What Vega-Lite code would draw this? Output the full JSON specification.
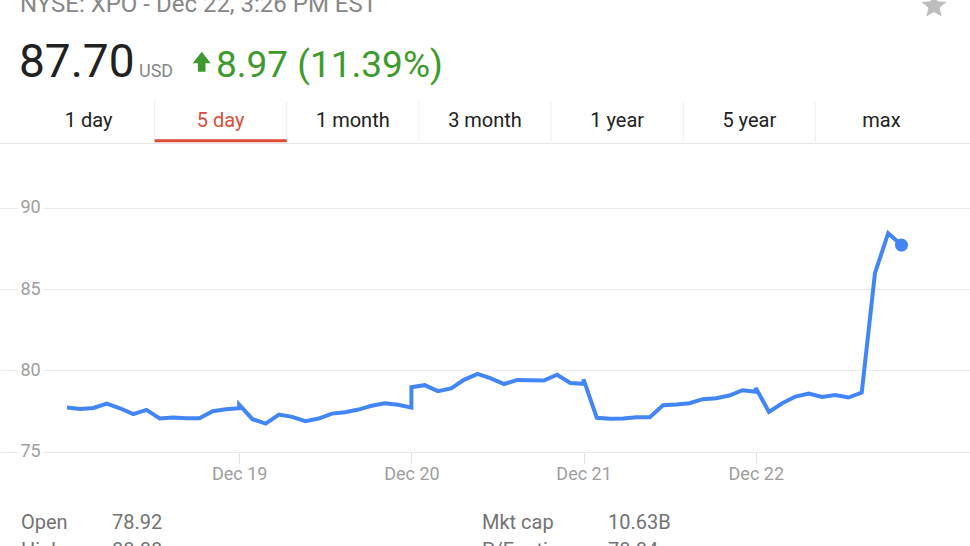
{
  "$schema": "https://vega.github.io/schema/vega-lite/v6.json",
  "width": 970,
  "height": 546,
  "padding": 0,
  "autosize": {"type": "none"},
  "background": "white",
  "config": {"view": {"stroke": null}, "font": "Roboto", "text": {"font": "Roboto"}},
  "datasets": {
    "prices": [
      {"i": 0, "t": 0, "price": 77.71}, {"i": 1, "t": 0.0769, "price": 77.63}, {"i": 2, "t": 0.1538, "price": 77.69}, {"i": 3, "t": 0.2308, "price": 77.96}, {"i": 4, "t": 0.3077, "price": 77.67}, {"i": 5, "t": 0.3846, "price": 77.31}, {"i": 6, "t": 0.4615, "price": 77.57}, {"i": 7, "t": 0.5385, "price": 77.04}, {"i": 8, "t": 0.6154, "price": 77.10}, {"i": 9, "t": 0.6923, "price": 77.06}, {"i": 10, "t": 0.7692, "price": 77.06}, {"i": 11, "t": 0.8462, "price": 77.49}, {"i": 12, "t": 0.9231, "price": 77.61}, {"i": 13, "t": 1.0, "price": 77.67},
      {"i": 14, "t": 1.0, "price": 77.89}, {"i": 15, "t": 1.0769, "price": 77.00}, {"i": 16, "t": 1.1538, "price": 76.73}, {"i": 17, "t": 1.2308, "price": 77.28}, {"i": 18, "t": 1.3077, "price": 77.14}, {"i": 19, "t": 1.3846, "price": 76.88}, {"i": 20, "t": 1.4615, "price": 77.04}, {"i": 21, "t": 1.5385, "price": 77.34}, {"i": 22, "t": 1.6154, "price": 77.43}, {"i": 23, "t": 1.6923, "price": 77.59}, {"i": 24, "t": 1.7692, "price": 77.82}, {"i": 25, "t": 1.8462, "price": 77.98}, {"i": 26, "t": 1.9231, "price": 77.88}, {"i": 27, "t": 2.0, "price": 77.71},
      {"i": 28, "t": 2.0, "price": 78.96}, {"i": 29, "t": 2.0769, "price": 79.09}, {"i": 30, "t": 2.1538, "price": 78.72}, {"i": 31, "t": 2.2308, "price": 78.89}, {"i": 32, "t": 2.3077, "price": 79.43}, {"i": 33, "t": 2.3846, "price": 79.78}, {"i": 34, "t": 2.4615, "price": 79.51}, {"i": 35, "t": 2.5385, "price": 79.16}, {"i": 36, "t": 2.6154, "price": 79.41}, {"i": 37, "t": 2.6923, "price": 79.39}, {"i": 38, "t": 2.7692, "price": 79.37}, {"i": 39, "t": 2.8462, "price": 79.73}, {"i": 40, "t": 2.9231, "price": 79.22}, {"i": 41, "t": 3.0, "price": 79.17},
      {"i": 42, "t": 3.0, "price": 79.45}, {"i": 43, "t": 3.0769, "price": 77.08}, {"i": 44, "t": 3.1538, "price": 77.02}, {"i": 45, "t": 3.2308, "price": 77.04}, {"i": 46, "t": 3.3077, "price": 77.12}, {"i": 47, "t": 3.3846, "price": 77.12}, {"i": 48, "t": 3.4615, "price": 77.86}, {"i": 49, "t": 3.5385, "price": 77.90}, {"i": 50, "t": 3.6154, "price": 77.98}, {"i": 51, "t": 3.6923, "price": 78.23}, {"i": 52, "t": 3.7692, "price": 78.29}, {"i": 53, "t": 3.8462, "price": 78.45}, {"i": 54, "t": 3.9231, "price": 78.78}, {"i": 55, "t": 4.0, "price": 78.68},
      {"i": 56, "t": 4.0, "price": 78.92}, {"i": 57, "t": 4.0769, "price": 77.44}, {"i": 58, "t": 4.1538, "price": 77.98}, {"i": 59, "t": 4.2308, "price": 78.39}, {"i": 60, "t": 4.3077, "price": 78.57}, {"i": 61, "t": 4.3846, "price": 78.37}, {"i": 62, "t": 4.4615, "price": 78.49}, {"i": 63, "t": 4.5385, "price": 78.33}, {"i": 64, "t": 4.6154, "price": 78.63}, {"i": 65, "t": 4.6923, "price": 85.98}, {"i": 66, "t": 4.7692, "price": 88.43}, {"i": 67, "t": 4.8462, "price": 87.70}
    ],
    "header": [
      {"item": "nyse", "text": "NYSE: XPO - Dec 22, 3:26 PM EST"},
      {"item": "price", "text": "87.70"},
      {"item": "usd", "text": "USD"},
      {"item": "arrow", "text": "up"},
      {"item": "chg", "text": "8.97 (11.39%)"},
      {"item": "star", "text": "favourite"}
    ],
    "tabs": [
      {"tab": "1 day"}, {"tab": "5 day"}, {"tab": "1 month"}, {"tab": "3 month"}, {"tab": "1 year"}, {"tab": "5 year"}, {"tab": "max"}
    ],
    "stats": [
      {"stat": "Open", "value": "78.92"},
      {"stat": "Mkt cap", "value": "10.63B"},
      {"stat": "High", "value": "88.88"},
      {"stat": "P/E ratio", "value": "78.84"}
    ]
  },
  "layer": [
    {
      "layer": [
        {
          "data": {"name": "prices"},
          "mark": {"type": "line", "color": "#4285f4", "strokeWidth": 4},
          "encoding": {
            "x": {"field": "t", "type": "quantitative",
              "scale": {"domain": [-0.3891, 5.2442], "nice": false, "zero": false},
              "axis": {"values": [1, 2, 3, 4], "labelExpr": "['Dec 16','Dec 19','Dec 20','Dec 21','Dec 22'][datum.value]", "title": null, "offset": -94, "domain": false, "grid": false, "ticks": true, "tickSize": 11, "tickColor": "#e0e0e0", "labelColor": "#9e9e9e", "labelFontSize": 18, "labelFont": "Roboto", "labelPadding": 2, "labelFlush": false, "labelOverlap": false}},
            "y": {"field": "price", "type": "quantitative",
              "scale": {"domain": [69.202, 102.768], "nice": false, "zero": false},
              "axis": {"values": [75, 80, 85, 90], "title": null, "orient": "left", "offset": -20, "domain": false, "ticks": false, "tickSize": 0, "labelAlign": "left", "labelPadding": 0, "labelBaseline": "middle", "labelColor": "#9e9e9e", "labelFontSize": 18, "labelFont": "Roboto", "grid": true, "gridColor": "#ebebeb", "gridWidth": 1, "gridDash": [17.5, 25, 3000]}},
            "order": {"field": "i", "type": "quantitative"}
          }
        },
        {
          "data": {"name": "prices"},
          "transform": [{"filter": "datum.i == 67"}],
          "mark": {"type": "point", "filled": true, "color": "#4285f4", "size": 170, "opacity": 1},
          "encoding": {
            "x": {"field": "t", "type": "quantitative"},
            "y": {"field": "price", "type": "quantitative"}
          }
        },
        {
          "data": {"name": "header"},
          "transform": [{"filter": "datum.item === 'nyse'"}],
          "mark": {"type": "rule", "color": "#e6e6e6", "strokeWidth": 1},
          "encoding": {"y": {"datum": 93.946, "type": "quantitative"}}
        },
        {
          "data": {"name": "header"},
          "transform": [{"filter": "datum.item === 'nyse'"}],
          "mark": {"type": "text", "align": "left", "baseline": "alphabetic", "fontSize": 24, "color": "#878787"},
          "encoding": {"text": {"field": "text"}, "x": {"datum": -0.273, "type": "quantitative"}, "y": {"datum": 102.0, "type": "quantitative"}}
        },
        {
          "data": {"name": "header"},
          "transform": [{"filter": "datum.item === 'price'"}],
          "mark": {"type": "text", "align": "left", "baseline": "alphabetic", "fontSize": 46, "color": "#212121"},
          "encoding": {"text": {"field": "text"}, "x": {"datum": -0.2788, "type": "quantitative"}, "y": {"datum": 98.034, "type": "quantitative"}}
        },
        {
          "data": {"name": "header"},
          "transform": [{"filter": "datum.item === 'usd'"}],
          "mark": {"type": "text", "align": "left", "baseline": "alphabetic", "fontSize": 18, "color": "#878787"},
          "encoding": {"text": {"field": "text"}, "x": {"datum": 0.4182, "type": "quantitative"}, "y": {"datum": 98.065, "type": "quantitative"}}
        },
        {
          "data": {"name": "header"},
          "transform": [{"filter": "datum.item === 'chg'"}],
          "mark": {"type": "text", "align": "left", "baseline": "alphabetic", "fontSize": 37, "color": "#3e9a2d"},
          "encoding": {"text": {"field": "text"}, "x": {"datum": 0.8653, "type": "quantitative"}, "y": {"datum": 98.034, "type": "quantitative"}}
        },
        {
          "data": {"name": "header"},
          "transform": [{"filter": "datum.item === 'arrow'"}],
          "mark": {"type": "point", "filled": true, "opacity": 1, "color": "#3e9a2d", "size": 400, "shape": "M0,-1L0.9,0.16L0.38,0.16L0.38,1L-0.38,1L-0.38,0.16L-0.9,0.16Z"},
          "encoding": {"x": {"datum": 0.7823, "type": "quantitative"}, "y": {"datum": 98.975, "type": "quantitative"}}
        },
        {
          "data": {"name": "header"},
          "transform": [{"filter": "datum.item === 'star'"}],
          "mark": {"type": "point", "filled": true, "opacity": 1, "color": "#bdbdbd", "size": 686, "shape": "M0,-1L0.265,-0.364L0.951,-0.309L0.428,0.139L0.588,0.809L0,0.45L-0.588,0.809L-0.428,0.139L-0.951,-0.309L-0.265,-0.364Z"},
          "encoding": {"x": {"datum": 5.0351, "type": "quantitative"}, "y": {"datum": 102.399, "type": "quantitative"}}
        },
        {
          "data": {"name": "stats"},
          "transform": [{"filter": "datum.stat === 'Open'"}],
          "mark": {"type": "text", "align": "left", "baseline": "alphabetic", "fontSize": 20, "color": "#737373"},
          "encoding": {"text": {"field": "stat"}, "x": {"datum": -0.2671, "type": "quantitative"}, "y": {"datum": 70.248, "type": "quantitative"}}
        },
        {
          "data": {"name": "stats"},
          "transform": [{"filter": "datum.stat === 'Open'"}],
          "mark": {"type": "text", "align": "left", "baseline": "alphabetic", "fontSize": 20, "color": "#737373"},
          "encoding": {"text": {"field": "value"}, "x": {"datum": 0.2613, "type": "quantitative"}, "y": {"datum": 70.248, "type": "quantitative"}}
        },
        {
          "data": {"name": "stats"},
          "transform": [{"filter": "datum.stat === 'Mkt cap'"}],
          "mark": {"type": "text", "align": "left", "baseline": "alphabetic", "fontSize": 20, "color": "#737373"},
          "encoding": {"text": {"field": "stat"}, "x": {"datum": 2.4101, "type": "quantitative"}, "y": {"datum": 70.248, "type": "quantitative"}}
        },
        {
          "data": {"name": "stats"},
          "transform": [{"filter": "datum.stat === 'Mkt cap'"}],
          "mark": {"type": "text", "align": "left", "baseline": "alphabetic", "fontSize": 20, "color": "#737373"},
          "encoding": {"text": {"field": "value"}, "x": {"datum": 3.1419, "type": "quantitative"}, "y": {"datum": 70.248, "type": "quantitative"}}
        },
        {
          "data": {"name": "stats"},
          "transform": [{"filter": "datum.stat === 'High'"}],
          "mark": {"type": "text", "align": "left", "baseline": "top", "fontSize": 20, "color": "#737373"},
          "encoding": {"text": {"field": "stat"}, "x": {"datum": -0.2671, "type": "quantitative"}, "y": {"datum": 69.486, "type": "quantitative"}}
        },
        {
          "data": {"name": "stats"},
          "transform": [{"filter": "datum.stat === 'High'"}],
          "mark": {"type": "text", "align": "left", "baseline": "top", "fontSize": 20, "color": "#737373"},
          "encoding": {"text": {"field": "value"}, "x": {"datum": 0.2613, "type": "quantitative"}, "y": {"datum": 69.486, "type": "quantitative"}}
        },
        {
          "data": {"name": "stats"},
          "transform": [{"filter": "datum.stat === 'P/E ratio'"}],
          "mark": {"type": "text", "align": "left", "baseline": "top", "fontSize": 20, "color": "#737373"},
          "encoding": {"text": {"field": "stat"}, "x": {"datum": 2.4101, "type": "quantitative"}, "y": {"datum": 69.486, "type": "quantitative"}}
        },
        {
          "data": {"name": "stats"},
          "transform": [{"filter": "datum.stat === 'P/E ratio'"}],
          "mark": {"type": "text", "align": "left", "baseline": "top", "fontSize": 20, "color": "#737373"},
          "encoding": {"text": {"field": "value"}, "x": {"datum": 3.1419, "type": "quantitative"}, "y": {"datum": 69.486, "type": "quantitative"}}
        }
      ]
    },
    {
      "data": {"name": "tabs"},
      "layer": [
        {
          "mark": {"type": "text", "fontSize": 20, "align": "center", "baseline": "alphabetic"},
          "encoding": {
            "x": {"field": "tab", "type": "nominal", "sort": null, "axis": null,
              "scale": {"type": "band", "domain": ["1 day", "5 day", "1 month", "3 month", "1 year", "5 year", "max"], "paddingInner": 0, "paddingOuter": 0.17}},
            "y": {"datum": 94.93, "type": "quantitative"},
            "text": {"field": "tab"},
            "color": {"condition": {"test": "datum.tab === '5 day'", "value": "#dd4b39"}, "value": "#212121"}
          }
        },
        {
          "transform": [{"filter": "datum.tab !== '1 day'"}],
          "mark": {"type": "rule", "color": "#eeeeee", "strokeWidth": 1},
          "encoding": {
            "x": {"field": "tab", "type": "nominal", "sort": null, "bandPosition": 0},
            "y": {"datum": 96.516, "type": "quantitative"},
            "y2": {"datum": 94.038}
          }
        },
        {
          "transform": [{"filter": "datum.tab === '5 day'"}],
          "mark": {"type": "rect", "color": "#dd4b39"},
          "encoding": {
            "x": {"field": "tab", "type": "nominal", "sort": null},
            "y": {"datum": 94.205, "type": "quantitative"},
            "y2": {"datum": 94.02}
          }
        }
      ]
    }
  ],
  "resolve": {"scale": {"x": "independent"}}
}
